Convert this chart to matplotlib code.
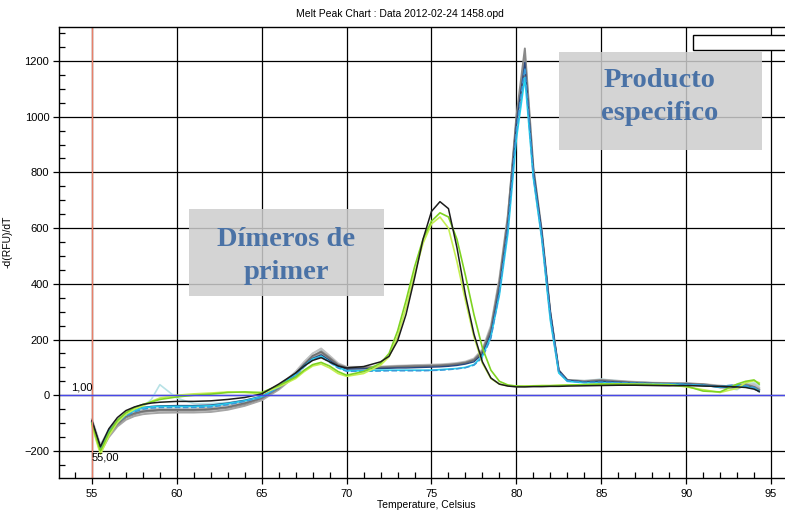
import numpy as np
import matplotlib.pyplot as plt
from matplotlib.patches import Rectangle

plt.rcParams['font.family'] = ['Liberation Sans', 'DejaVu Sans']

# Temperatura (eje X) compartida por todas las curvas
temps = [55.0, 55.5, 56.0, 56.5, 57.0, 57.5, 58.0, 58.5, 59.0,
         60.0, 61.0, 62.0, 63.0, 64.0, 65.0, 66.0, 67.0, 67.5, 68.0, 68.5, 69.0, 69.5, 70.0,
         71.0, 72.0, 72.5, 73.0, 73.5, 74.0, 74.5, 75.0, 75.5, 76.0, 76.5, 77.0, 77.5, 78.0, 78.5,
         79.0, 79.5, 80.0, 80.5, 81.0, 81.5, 82.0, 82.5, 83.0,
         84.0, 85.0, 86.0, 87.0, 88.0, 89.0, 90.0, 91.0, 92.0, 93.0, 93.5, 94.0, 94.3]

# Curvas con dímeros de primer
black_dimer = [-90, -185, -120, -80, -55, -42, -33, -28, -25,
               -22, -22, -20, -15, -8, 5, 40, 80, 105, 125, 135, 120, 105, 98,
               103, 120, 140, 195, 290, 420, 560, 660, 695, 670, 530, 360, 220, 120, 62,
               40, 33, 30, 30, 31, 31, 32, 32, 33,
               34, 35, 36, 36, 35, 34, 35, 33, 32, 30, 28, 22, 14]
green_dimer = [-100, -200, -135, -90, -62, -44, -33, -24, -15,
               -6, 0, 4, 10, 12, 10, 35, 65, 90, 110, 118, 105, 85, 72,
               85, 115, 150, 230, 340, 460, 560, 625, 655, 640, 560, 430, 290, 170, 90,
               50, 37, 33, 32, 33, 34, 34, 35, 36,
               38, 40, 40, 39, 38, 37, 33, 15, 12, 40, 50, 55, 40]
lime_dimer = [-110, -212, -145, -98, -68, -50, -38, -22, -10,
              0, 5, 8, 12, 10, 5, 30, 60, 85, 105, 112, 98, 78, 68,
              78, 108, 138, 210, 315, 435, 545, 615, 640, 600, 480, 340, 210, 115, 60,
              40, 34, 32, 33, 34, 35, 35, 36, 37,
              38, 40, 41, 40, 39, 38, 30, 20, 10, 25, 45, 52, 45]

# Curvas del producto especifico
gray_a = [-95, -195, -140, -105, -80, -68, -60, -57, -55,
          -55, -55, -52, -45, -32, -12, 25, 75, 110, 140, 158, 135, 110, 100,
          100, 101, 102, 104, 105, 106, 106, 107, 108, 110, 113, 118, 128, 160, 240,
          410, 640, 1000, 1245, 820, 590, 300, 90, 55,
          50, 55, 50, 46, 44, 42, 42, 40, 32, 36, 40, 30, 20]
gray_b = [-100, -205, -150, -112, -88, -75, -68, -65, -63,
          -62, -62, -60, -52, -38, -18, 20, 70, 105, 135, 150, 128, 105, 96,
          97, 99, 100, 101, 102, 103, 104, 105, 106, 108, 111, 116, 125, 150, 225,
          390, 620, 980, 1210, 800, 575, 290, 85, 52,
          50, 52, 49, 46, 44, 43, 42, 38, 28, 25, 35, 32, 22]
gray_c = [-85, -180, -125, -90, -68, -58, -52, -50, -48,
          -48, -47, -44, -36, -24, -6, 30, 85, 120, 150, 168, 142, 115, 102,
          102, 103, 105, 106, 107, 108, 109, 110, 111, 113, 116, 121, 132, 165, 250,
          420, 650, 960, 1185, 790, 565, 280, 82, 55,
          52, 56, 52, 48, 45, 44, 43, 40, 35, 30, 38, 40, 28]
gray_d = [-92, -190, -135, -100, -76, -64, -57, -54, -52,
          -52, -52, -49, -42, -28, -10, 28, 80, 112, 142, 155, 132, 108, 98,
          98, 99, 100, 101, 102, 103, 104, 105, 106, 108, 111, 116, 126, 155, 232,
          400, 630, 990, 1165, 810, 580, 295, 88, 54,
          48, 52, 48, 45, 43, 42, 41, 38, 30, 28, 36, 30, 18]
cyan = [-100, -190, -130, -95, -70, -55, -45, -42, -40,
        -40, -40, -38, -30, -20, -5, 30, 75, 105, 130, 140, 120, 100, 88,
        88, 90, 90, 90, 90, 90, 90, 90, 92, 94, 96, 100, 110, 140, 210,
        360, 580, 920, 1140, 780, 560, 270, 80, 50,
        45, 45, 43, 42, 41, 40, 38, 35, 30, 35, 30, 25, 15]
blue_dash = [-98, -195, -135, -98, -74, -60, -50, -46, -44,
             -44, -44, -42, -34, -22, -8, 28, 72, 102, 128, 138, 118, 98, 86,
             86, 87, 88, 88, 88, 88, 88, 89, 90, 92, 95, 99, 108, 135, 205,
             370, 600, 950, 1175, 790, 570, 285, 84, 52,
             46, 47, 45, 43, 42, 41, 39, 36, 32, 38, 34, 28, 18]
navy = [-95, -188, -128, -92, -66, -52, -44, -40, -38,
        -37, -37, -35, -28, -18, -4, 32, 78, 108, 132, 145, 125, 104, 94,
        95, 96, 97, 98, 98, 99, 100, 101, 102, 104, 107, 112, 120, 148, 220,
        380, 610, 970, 1195, 805, 585, 300, 90, 54,
        48, 50, 47, 44, 42, 41, 40, 36, 28, 30, 32, 25, 12]
pale = [-90, -178, -122, -88, -64, -50, -40, -15, 38,
        -10, -30, -30, -26, -18, -4, 30, 82, 118, 150, 165, 140, 112, 100,
        100, 102, 103, 104, 105, 106, 107, 108, 109, 111, 114, 119, 130, 162, 245,
        415, 645, 985, 1225, 815, 585, 295, 88, 56,
        52, 58, 52, 47, 45, 44, 42, 40, 30, 20, 40, 45, 35]

y_ticks = [-200, 0, 200, 400, 600, 800, 1000, 1200]
x_ticks = [55, 60, 65, 70, 75, 80, 85, 90, 95]

fig = plt.figure(figsize=(7.85, 5.11), dpi=100)
ax = fig.add_axes([59 / 785, 33 / 511, 737.5 / 785, 451 / 511])

# producto especifico
series = [
    (pale, '#b8e2e6', '-', 1.2),
    (gray_c, '#c2c2c2', '-', 1.4),
    (gray_b, '#a6a6a6', '-', 1.4),
    (gray_a, '#8a8a8a', '-', 1.4),
    (gray_d, '#707070', '-', 1.1),
    (navy, '#27467e', '-', 1.0),
    (cyan, '#22d0ee', '-', 1.2),
    (blue_dash, '#3a9ad9', '--', 1.1),
    # dimeros
    (lime_dimer, '#c6ef52', '-', 1.2),
    (green_dimer, '#7ed321', '-', 1.2),
    (black_dimer, '#1c1c1c', '-', 1.1),
]
for vals, col, ls, lw in series:
    ax.plot(temps, vals, color=col, ls=ls, lw=lw, zorder=2)

ax.axvline(55, color='#e8806a', lw=1.0, zorder=2.5)
ax.axhline(0, color='#4848e8', lw=1.0, zorder=2.5)

ax.set_xlim(53.06, 96.5)
ax.set_ylim(-297, 1322)
ax.set_xticks(x_ticks)
ax.set_yticks(y_ticks)
ax.set_xticks(np.arange(54, 97, 1), minor=True)
ax.set_yticks(np.arange(-250, 1322, 50), minor=True)
ax.grid(which='major', color='black', lw=0.9, zorder=1)
ax.tick_params(which='major', direction='out', length=4, width=0.9,
               labelsize=8, colors='black', pad=3)
ax.tick_params(which='minor', direction='in', length=4, width=0.9)
ax.tick_params(axis='x', which='major', pad=4)
for s in ax.spines.values():
    s.set_linewidth(1.0)
    s.set_color('black')

ax.text(54.4, 29, '1,00', fontsize=8, ha='center', va='center')
ax.text(55.0, -222, '55,00', fontsize=8, ha='left', va='center')

# recuadros de texto
ax.add_patch(Rectangle((60.71, 355), 11.49, 312, facecolor='#cdcdcd',
                       edgecolor='none', alpha=0.85, zorder=3))
ax.add_patch(Rectangle((82.5, 882), 11.96, 351, facecolor='#cdcdcd',
                       edgecolor='none', alpha=0.85, zorder=3))
lbl = dict(fontsize=20.5, fontweight='bold', color='#4a72a6',
           family=['Liberation Serif', 'DejaVu Serif'], ha='center', va='center', zorder=4)
ax.text(66.45, 559, 'Dímeros de', **lbl)
ax.text(66.45, 441, 'primer', **lbl)
ax.text(88.45, 1129, 'Producto', **lbl)
ax.text(88.45, 1011, 'especifico', **lbl)

ax.add_patch(Rectangle((90.4, 1240), 8, 54, facecolor='white', edgecolor='black',
                       lw=1.0, zorder=4, clip_on=False))

fig.text(400 / 785, 1 - 14 / 511, 'Melt Peak Chart : Data 2012-02-24 1458.opd',
         fontsize=7.5, ha='center', va='center')
fig.text(426 / 785, 1 - 505 / 511, 'Temperature, Celsius', fontsize=7.5,
         ha='center', va='center')
fig.text(8 / 785, 1 - 242 / 511, '-d(RFU)/dT', fontsize=7.5, rotation=90,
         ha='center', va='center')

fig.savefig('out.png', dpi=100)
